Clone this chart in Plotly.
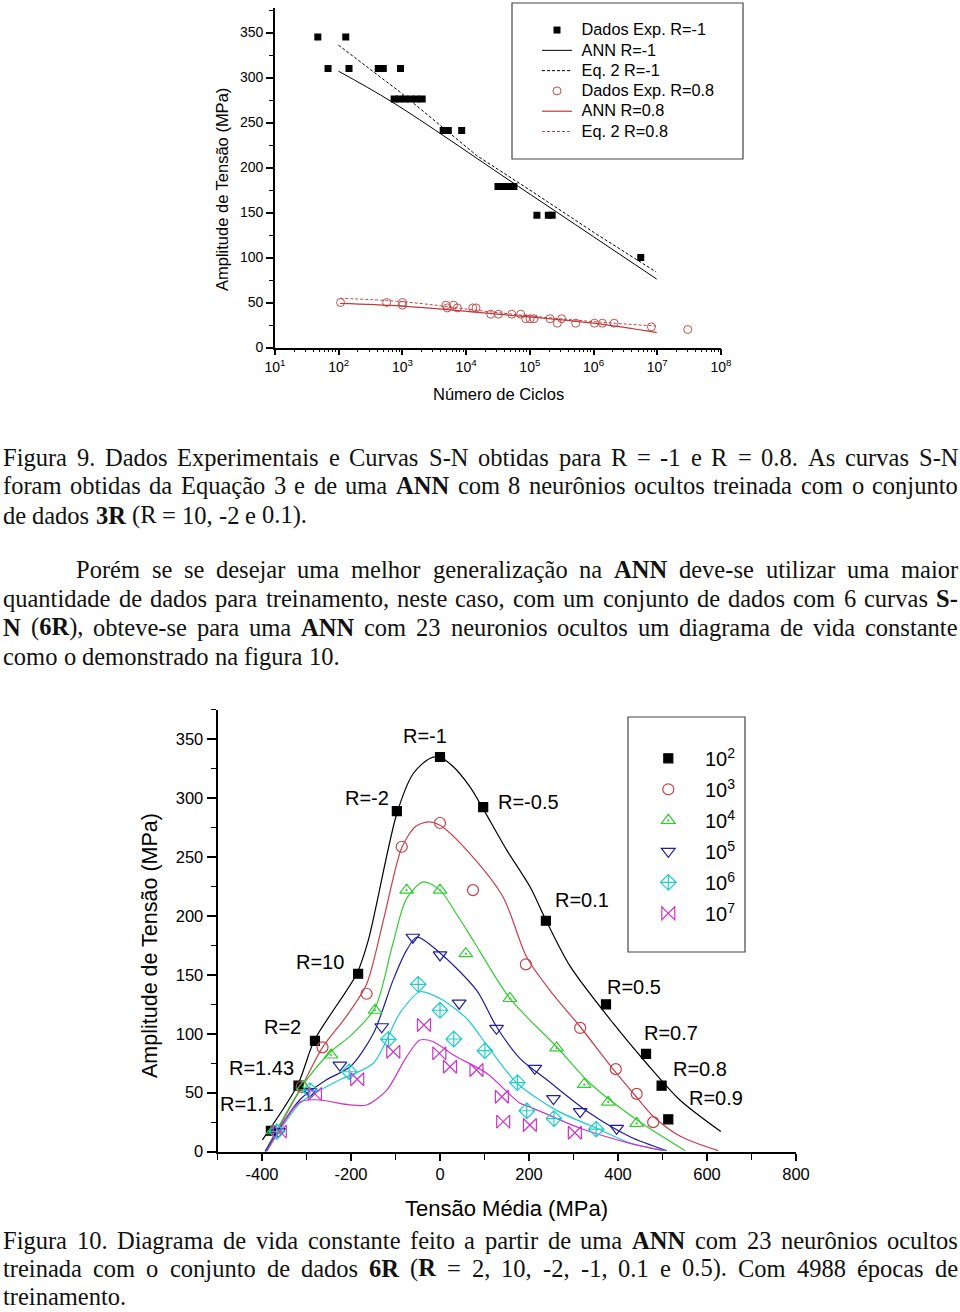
import plotly.graph_objects as go

W, H = 960, 1312

# ---------------- Figura 9 (top chart) data ----------------
n_exp_rm1 = [47, 68, 129, 145, 417, 501, 933, 741, 891, 1096, 1349, 1660, 2042,
             4365, 5248, 8511, 31600, 38000, 45700, 56200, 129000, 195000, 224000, 5500000]
s_exp_rm1 = [345, 310, 345, 310, 310, 310, 310, 276, 276, 276, 276, 276, 276,
             241, 241, 241, 179, 179, 179, 179, 147, 147, 147, 100]
n_ann_rm1 = [99, 680, 66000, 9800000]
s_ann_rm1 = [307, 273, 179, 76]
n_eq_rm1 = [99, 912, 14800, 100000, 1000000, 9550000]
s_eq_rm1 = [336, 284, 213, 175, 128, 84]

n_exp_r08 = [107, 566, 1000, 1000, 4830, 6310, 5070, 7280, 12700, 14300, 24300, 32100, 52000,
             71900, 86100, 100700, 116000, 207000, 270000, 316000, 525000, 1030000, 1370000,
             2100000, 8090000, 30100000]
s_exp_r08 = [50, 50, 50, 47, 47, 47, 44, 44, 44, 44, 37, 37, 37,
             37, 32, 32, 32, 32, 27, 32, 27, 27, 27,
             27, 23, 20]
n_ann_r08 = [105, 1000, 31600, 1000000, 9800000]
s_ann_r08 = [49, 46, 37, 27, 16.5]
n_eq_r08 = [105, 1000, 31600, 1000000, 9500000]
s_eq_r08 = [54.7, 50.9, 38.7, 28.7, 23.9]

top_x_vals = [10, 100, 1000, 10000, 100000, 1000000, 10000000, 100000000]
top_x_text = ["10<sup>1</sup>", "10<sup>2</sup>", "10<sup>3</sup>", "10<sup>4</sup>",
              "10<sup>5</sup>", "10<sup>6</sup>", "10<sup>7</sup>", "10<sup>8</sup>"]
top_y_vals = [0, 50, 100, 150, 200, 250, 300, 350]
top_names = ["Dados Exp. R=-1", "ANN R=-1", "Eq. 2 R=-1",
             "Dados Exp. R=0.8", "ANN R=0.8", "Eq. 2 R=0.8"]

# ---------------- Figura 10 (bottom chart) data ----------------
v_1e2 = [-380, -318, -281, -184, -97, 0, 97, 238, 373, 463, 498, 513]
s_1e2 = [17.7, 56, 94, 151, 289, 335, 292.5, 196, 125, 83, 56, 27.4]
r_labels = ["R=1.1", "R=1.43", "R=2", "R=10", "R=-2", "R=-1", "R=-0.5",
            "R=0.1", "R=0.5", "R=0.7", "R=0.8", "R=0.9"]

v_1e3 = [-311, -264, -165, -86, 0, 74, 193, 315, 395, 442, 479]
s_1e3 = [55, 88.5, 134, 258.8, 279, 222, 159, 105, 70, 49, 25]
v_1e4 = [-375, -307, -245, -146, -75, 0, 58, 157, 262, 324, 378, 442]
s_1e4 = [17.7, 55, 82, 120, 222, 222, 168, 130, 88, 57, 42, 24]
v_1e5 = [-363, -292, -225, -131, -61, 0, 43, 127, 213, 255, 315, 397]
s_1e5 = [17, 51, 73.5, 106, 182, 167, 126, 104.7, 70.7, 45, 34, 19.8]
v_1e6 = [-367, -292, -204, -116, -49, 0, 31, 101, 174, 195, 256, 351]
s_1e6 = [17, 51.7, 67.8, 95.3, 142, 120, 95.6, 85.7, 58.5, 34.7, 28, 19]
v_1e7 = [-360, -281, -186, -105, -36, -1.5, 22.5, 82, 139, 142, 202, 303]
s_1e7 = [17, 49, 61.4, 84.8, 107.5, 83.4, 72, 69.3, 46.6, 25.4, 22.6, 16]

cv_1e2 = [-399, -320, -282, -187, -161, -97, -60, -22, 0, 30, 67, 97, 150, 202, 240, 293, 389, 464, 539, 631]
cs_1e2 = [10, 56.5, 94.7, 151, 179.6, 287, 321, 334, 334.7, 326.7, 309.8, 291, 256, 225, 195, 157, 109, 75, 43.8, 17]
cv_1e3 = [-393, -311, -264, -210, -165, -125, -86, -55, -26, 0, 67, 142, 195, 255, 315, 389, 440, 479, 540, 625]
cs_1e3 = [0, 55, 88.5, 115, 142, 200, 258, 276, 280, 277, 253, 216, 165, 133, 106, 70, 47, 30, 13, 0.8]
cv_1e4 = [-393, -307, -245, -202, -146, -107, -75, -37, 0, 40, 75, 157, 262, 337, 442, 551]
cs_1e4 = [0, 57, 85, 98, 122, 175, 215, 229, 222, 200, 179, 130, 89, 58, 27, 0.8]
cv_1e5 = [-393, -315, -255, -202, -150, -105, -75, -52, 0, 82, 127, 180, 240, 337, 427, 509]
cs_1e5 = [0, 44, 61, 72, 100, 146, 171, 182, 168.6, 137, 106, 79, 61, 32.5, 12.6, 0.8]
cv_1e6 = [-390, -315, -270, -225, -150, -90, -45, 0, 60, 110, 172, 262, 352, 427, 506]
cs_1e6 = [0, 41, 52, 61, 75, 117.6, 135.7, 130, 113, 88, 58.5, 35, 19.8, 7.3, 0.8]
cv_1e7 = [-390, -315, -277, -202, -165, -120, -75, -45, -15, 30, 105, 180, 202, 315, 427, 502]
cs_1e7 = [0, 42, 44, 39.6, 39.6, 52, 80.6, 94.7, 93.3, 82, 66.5, 41, 38, 19.8, 7, 0.8]

bot_x_vals = [-400, -200, 0, 200, 400, 600, 800]
bot_x_text = ["-400", "-200", "0", "200", "400", "600", "800"]
bot_y_vals = [0, 50, 100, 150, 200, 250, 300, 350]
life_names = ["10<sup>2</sup>", "10<sup>3</sup>", "10<sup>4</sup>",
              "10<sup>5</sup>", "10<sup>6</sup>", "10<sup>7</sup>"]

# ---------------- page text ----------------
text_lines = [
    ("Figura 9. Dados Experimentais e Curvas S-N obtidas para R = -1 e R = 0.8. As curvas S-N", True, 0),
    ("foram obtidas da Equação 3 e de uma *ANN* com 8 neurônios ocultos treinada com o conjunto", True, 0),
    ("de dados *3R* (R = 10, -2 e 0.1).", False, 0),
    ("Porém se se desejar uma melhor generalização na *ANN* deve-se utilizar uma maior", True, 73),
    ("quantidade de dados para treinamento, neste caso, com um conjunto de dados com 6 curvas *S-*", True, 0),
    ("*N* (*6R*), obteve-se para uma *ANN* com 23 neuronios ocultos um diagrama de vida constante", True, 0),
    ("como o demonstrado na figura 10.", False, 0),
    ("Figura 10. Diagrama de vida constante feito a partir de uma *ANN* com 23 neurônios ocultos", True, 0),
    ("treinada com o conjunto de dados *6R* (*R* = 2, 10, -2, -1, 0.1 e 0.5). Com 4988 épocas de", True, 0),
    ("treinamento.", False, 0),
]
text_y = [457, 486, 515, 569, 598, 627, 656, 1240, 1268, 1296]

# ---------------- helpers ----------------
def px(x):
    return x / W

def py(y):
    return 1 - y / H

SANS = "Liberation Sans, Arial, sans-serif"
SERIF = "Liberation Serif, Times New Roman, serif"

TNR = {' ': 250, '!': 333, '(': 333, ')': 333, ',': 250, '-': 333, '.': 250, ':': 278, '=': 564,
       'A': 722, 'B': 667, 'C': 667, 'D': 722, 'E': 611, 'F': 556, 'G': 722, 'H': 722, 'I': 333,
       'J': 389, 'K': 722, 'L': 611, 'M': 889, 'N': 722, 'O': 722, 'P': 556, 'Q': 722, 'R': 667,
       'S': 556, 'T': 611, 'U': 722, 'V': 722, 'W': 944, 'X': 722, 'Y': 722, 'Z': 611,
       'a': 444, 'b': 500, 'c': 444, 'd': 500, 'e': 444, 'f': 333, 'g': 500, 'h': 500, 'i': 278,
       'j': 278, 'k': 500, 'l': 278, 'm': 778, 'n': 500, 'o': 500, 'p': 500, 'q': 500, 'r': 333,
       's': 389, 't': 278, 'u': 500, 'v': 500, 'w': 722, 'x': 500, 'y': 500, 'z': 444,
       'ã': 444, 'ç': 444, 'ô': 500, 'é': 444, 'ê': 444, 'ó': 500, 'í': 278, 'á': 444}
TNR_B = {'A': 722, 'N': 722, 'R': 722, 'S': 556, '-': 333, '3': 500, '6': 500}
FS = 24.5

annotations = []
shapes = []

def seg_w(t, bold):
    tot = 0
    for c in t:
        if bold:
            tot += TNR_B.get(c, TNR.get(c, 500))
        else:
            tot += TNR.get(c, 500)
    return tot * FS / 1000.0

def add_line(line, y, justify, indent):
    x0, x1 = 2 + indent, 957
    words = line.split(' ')
    parsed = [[(seg, i % 2 == 1) for i, seg in enumerate(w.split('*')) if seg] for w in words]
    widths = [sum(seg_w(t, b) for t, b in p) for p in parsed]
    if justify and len(words) > 1:
        gap = (x1 - x0 - sum(widths)) / (len(words) - 1)
    else:
        gap = TNR[' '] * FS / 1000.0
    x = x0
    for p, w in zip(parsed, widths):
        html = ''.join('<b>%s</b>' % t if b else t for t, b in p)
        annotations.append(dict(text=html, x=px(x), y=py(y), xref='paper', yref='paper',
                                xanchor='left', yanchor='middle', showarrow=False, borderpad=0,
                                font=dict(family=SERIF, size=FS, color='#111111')))
        x += w + gap

for (ln, just, ind), yy in zip(text_lines, text_y):
    add_line(ln, yy, just, ind)

fig = go.Figure()

# ---------------- top chart traces ----------------
def top_name(t):
    return '<span style="font-size:16.3px">\u00a0' + t + '</span>'

top_common = dict(xaxis='x', yaxis='y', legend='legend')
fig.add_trace(go.Scatter(x=n_exp_rm1, y=s_exp_rm1, mode='markers', name=top_name(top_names[0]),
                         marker=dict(symbol='square', size=7, color='black'), **top_common))
fig.add_trace(go.Scatter(x=n_ann_rm1, y=s_ann_rm1, mode='lines', name=top_name(top_names[1]),
                         line=dict(color='black', width=1, shape='spline'), **top_common))
fig.add_trace(go.Scatter(x=n_eq_rm1, y=s_eq_rm1, mode='lines', name=top_name(top_names[2]),
                         line=dict(color='black', width=1, dash='3px,2px'), **top_common))
fig.add_trace(go.Scatter(x=n_exp_r08, y=s_exp_r08, mode='markers', name=top_name(top_names[3]),
                         marker=dict(symbol='circle-open', size=8, color='#c0504d', line=dict(width=1)),
                         **top_common))
fig.add_trace(go.Scatter(x=n_ann_r08, y=s_ann_r08, mode='lines', name=top_name(top_names[4]),
                         line=dict(color='#c03a3a', width=1.2, shape='spline'), **top_common))
fig.add_trace(go.Scatter(x=n_eq_r08, y=s_eq_r08, mode='lines', name=top_name(top_names[5]),
                         line=dict(color='#c04040', width=1, dash='3px,2px', shape='spline'),
                         **top_common))

# ---------------- bottom chart traces ----------------
colors = ['black', '#c4404a', '#33cc33', '#1f1f99', '#22cccc', '#cc33cc']
curves = [(cv_1e2, cs_1e2), (cv_1e3, cs_1e3), (cv_1e4, cs_1e4),
          (cv_1e5, cs_1e5), (cv_1e6, cs_1e6), (cv_1e7, cs_1e7)]
for (cv, cs), col in zip(curves, colors):
    fig.add_trace(go.Scatter(x=cv, y=cs, mode='lines', showlegend=False, hoverinfo='skip',
                             line=dict(color=col, width=1.2, shape='spline', smoothing=0.8),
                             xaxis='x2', yaxis='y2'))

points = [(v_1e2, s_1e2), (v_1e3, s_1e3), (v_1e4, s_1e4),
          (v_1e5, s_1e5), (v_1e6, s_1e6), (v_1e7, s_1e7)]
symbols = ['square', 'circle-open', 'triangle-up-open-dot', 'triangle-down-open',
           'diamond-cross-open', 'bowtie-open']
sizes = [9, 11, 12, 12, 12, 13]
for i, ((vv, ss), col, sym, sz, nm) in enumerate(zip(points, colors, symbols, sizes, life_names)):
    fig.add_trace(go.Scatter(x=vv, y=ss, mode='markers', name='\u00a0\u00a0\u00a0' + nm,
                             marker=dict(symbol=sym, size=sz, color=col, line=dict(width=1.2, color=col)),
                             xaxis='x2', yaxis='y2', legend='legend2', legendgroup='b%d' % i))

# R labels (layout positions, in data units of the bottom chart)
label_pos = [(-434, 40.4), (-402, 70.7), (-353, 105.8), (-270, 161), (-165, 300.2), (-34, 352.8),
             (198, 296.4), (318, 213.6), (436, 139.7), (519, 100.7), (585, 70.1), (621, 45.5)]
for t, (lx, ly) in zip(r_labels, label_pos):
    annotations.append(dict(text=t, x=lx, y=ly, xref='x2', yref='y2', showarrow=False,
                            xanchor='center', yanchor='middle',
                            font=dict(family=SANS, size=20, color='black')))

# axis titles
title_common = dict(xref='paper', yref='paper', showarrow=False, xanchor='center', yanchor='middle')
annotations += [
    dict(text='Amplitude de Tensão (MPa)', x=px(222), y=py(190), textangle=-90,
         font=dict(family=SANS, size=16.5, color='black'), **title_common),
    dict(text='Número de Ciclos', x=px(498), y=py(394),
         font=dict(family=SANS, size=16.5, color='black'), **title_common),
    dict(text='Amplitude de Tensão (MPa)', x=px(150), y=py(946), textangle=-90,
         font=dict(family=SANS, size=21.5, color='black'), **title_common),
    dict(text='Tensão Média (MPa)', x=px(507), y=py(1208),
         font=dict(family=SANS, size=22, color='black'), **title_common),
]

# legend boxes
shapes += [
    dict(type='rect', xref='paper', yref='paper', x0=px(512), x1=px(743), y0=py(159), y1=py(3),
         line=dict(color='#444444', width=1.2)),
    dict(type='rect', xref='paper', yref='paper', x0=px(628), x1=px(745), y0=py(952), y1=py(717),
         line=dict(color='#444444', width=1.2)),
]

minor_top_x = [m * 10 ** k for k in range(1, 8) for m in range(2, 10)]

axis_common = dict(showline=True, linecolor='black', linewidth=1.8, ticks='outside',
                   tickcolor='black', tickwidth=1.5, showgrid=False, zeroline=False,
                   automargin=False, mirror=False)

fig.update_layout(
    width=W, height=H, margin=dict(l=0, r=0, t=0, b=0),
    paper_bgcolor='white', plot_bgcolor='rgba(0,0,0,0)',
    showlegend=True,
    xaxis=dict(type='log', range=[1, 8], domain=[px(275), px(721)], anchor='y',
               tickmode='array', tickvals=top_x_vals, ticktext=top_x_text, ticklen=6,
               tickfont=dict(family=SANS, size=14, color='black'),
               minor=dict(tickmode='array', tickvals=minor_top_x, ticks='outside', ticklen=3,
                          tickwidth=1, tickcolor='black', showgrid=False),
               **axis_common),
    yaxis=dict(range=[0, 377], domain=[py(347.5), py(8.2)], anchor='x',
               tickmode='array', tickvals=top_y_vals, ticklen=7,
               tickfont=dict(family=SANS, size=14, color='black'),
               minor=dict(dtick=25, tick0=0, ticks='outside', ticklen=4, tickwidth=1,
                          tickcolor='black', showgrid=False),
               **axis_common),
    xaxis2=dict(range=[-500, 800], domain=[px(217.5), px(796)], anchor='y2',
                tickmode='array', tickvals=bot_x_vals, ticktext=bot_x_text, ticklen=7,
                tickfont=dict(family=SANS, size=16.5, color='black'),
                minor=dict(dtick=100, tick0=0, ticks='outside', ticklen=6, tickwidth=1.2,
                           tickcolor='black', showgrid=False),
                **axis_common),
    yaxis2=dict(range=[0, 375], domain=[py(1151.6), py(709.9)], anchor='x2',
                tickmode='array', tickvals=bot_y_vals, ticklen=9,
                tickfont=dict(family=SANS, size=16.5, color='black'),
                minor=dict(dtick=25, tick0=0, ticks='outside', ticklen=5, tickwidth=1.2,
                           tickcolor='black', showgrid=False),
                **axis_common),
    legend=dict(x=px(537), y=py(14.9), xanchor='left', yanchor='top', bgcolor='rgba(0,0,0,0)',
                borderwidth=0, font=dict(family=SANS, size=13.3, color='black'),
                traceorder='normal'),
    legend2=dict(x=px(648.3), y=py(738.8), xanchor='left', yanchor='top', bgcolor='rgba(0,0,0,0)',
                 borderwidth=0, font=dict(family=SANS, size=20, color='black'),
                 tracegroupgap=2, traceorder='grouped'),
    annotations=annotations,
    shapes=shapes,
)

fig.write_html("out.html", config={'displayModeBar': False})
